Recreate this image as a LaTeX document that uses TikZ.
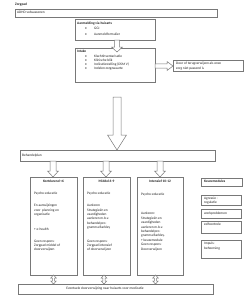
\documentclass[tikz,border=0pt]{standalone}
\usepackage{fontspec}
\setmainfont{Carlito}
\definecolor{linegray}{RGB}{120,120,120}
\definecolor{textcol}{RGB}{30,30,30}
\newcommand\BlockDown[6]{% x, ytop, ytip, shaft half, head half, head start
  \draw[harrow] (#1-#4,#2) -- (#1+#4,#2) -- (#1+#4,#6) -- (#1+#5,#6) -- (#1,#3) -- (#1-#5,#6) -- (#1-#4,#6) -- cycle;}
\newcommand\BlockRight[6]{% y, xleft, xtip, shaft half, head half, head start
  \draw[harrow] (#2,#1-#4) -- (#6,#1-#4) -- (#6,#1-#5) -- (#3,#1) -- (#6,#1+#5) -- (#6,#1+#4) -- (#2,#1+#4) -- cycle;}
\newcommand\BlockBoth[6]{% x, y1, y2, shaft half, head half, head length
  \draw[harrow] (#1,#2) -- (#1+#5,#2+#6) -- (#1+#4,#2+#6) -- (#1+#4,#3-#6) -- (#1+#5,#3-#6) -- (#1,#3) -- (#1-#5,#3-#6) -- (#1-#4,#3-#6) -- (#1-#4,#2+#6) -- (#1-#5,#2+#6) -- cycle;}
\newcommand\TextLines[3]{% x, prefix, list y/text
  \foreach \yy/\tt [count=\ii] in {#3} {\node[txt, anchor=west] (#2\ii) at (#1,\yy) {\tt};}}
\begin{document}
\begin{tikzpicture}[x=1pt,y=-1pt,
  box/.style={draw=linegray, line width=0.5pt, inner sep=0pt, anchor=north west},
  txt/.style={font=\fontsize{3.5}{4.35}\selectfont, text=textcol, inner sep=0pt, text height=2.5pt, text depth=0.8pt},
  btxt/.style={txt, font=\fontsize{3.5}{4.35}\selectfont\bfseries},
  harrow/.style={draw=linegray, line width=0.5pt, fill=white, line join=miter}]
\useasboundingbox (0,0) rectangle (245,300);

% top
\node[btxt, anchor=west] (zorgpad) at (15,4.5) {Zorgpad};
\node[box, minimum width=202pt, minimum height=8.5pt] (adhd) at (15,8.5) {};
\node[txt, anchor=west] (adhdt) at (17,12.75) {ADHD volwassenen};

% aanmelding
\node[box, minimum width=80pt, minimum height=21pt] (aanm) at (75,19) {};
\node[btxt, anchor=west] (aanmt) at (77,23.3) {Aanmelding via huisarts};
\TextLines{85}{aanmb}{29/•, 34.5/•}
\TextLines{94}{aanml}{29/GGI, 34.5/Aanmeldformulier}

% intake
\node[box, minimum width=80pt, minimum height=34pt] (intake) at (75,48) {};
\BlockDown{117}{40}{52}{2.5}{5.5}{47}
\node[btxt, anchor=west] (intaket) at (77,52) {Intake};
\TextLines{85}{intb}{56.5/•, 60.7/•, 64.9/•, 69.1/•}
\TextLines{94}{intl}{56.5/Klachtinventarisatie, 60.7/Klinische blik, 64.9/Indicatiestelling (DSM V), 69.1/Indelen zorgzwaarte}

% door
\BlockRight{66}{155}{173}{2.2}{4.5}{167}
\node[box, minimum width=70pt, minimum height=11pt] (door) at (173,60) {};
\TextLines{176}{doorl}{64/Door of terugverwijzen als onze, 68.2/zorg niet passend is}

% big arrow
\BlockDown{117}{97}{150}{4}{9.5}{135}

% behandelplan
\node[box, minimum width=195pt, minimum height=11pt] (behandel) at (20,150) {};
\node[txt, anchor=west] (behandelt) at (22,155.5) {Behandelplan};

\BlockDown{53}{161}{177}{3}{5.5}{171}
\BlockDown{106}{161}{177}{3}{5.5}{171}
\BlockDown{160}{161}{177}{3}{5.5}{171}

% columns
\node[box, minimum width=47pt, minimum height=98pt] (kort) at (30,177) {};
\node[box, minimum width=47pt, minimum height=98pt] (middel) at (83,177) {};
\node[box, minimum width=46pt, minimum height=98pt] (intens) at (137,177) {};
\node[btxt] (kortt) at (53.5,181.5) {Kortdurend <6};
\node[btxt] (middelt) at (106.5,181.5) {Middel 6-9};
\node[btxt] (intenst) at (160,181.5) {Intensief 10-12};

\TextLines{34}{kl}{194/Psycho-educatie, 206/En aanwijzingen, 210.3/voor\ \ planning en, 214.6/organisatie, 229.5/+ e-health, 241.5/Geen respons:, 245.8/Zorgpad middel of, 250.1/doorverwijzen}
\TextLines{87}{ml}{194/Psycho-educatie, 206/Aanleren, 210.3/Strategieën en, 214.6/vaardigheden, 218.9/aanleren m.b.v., 223.2/behandelpro-, 227.5/gramma Barkley, 241.5/Geen respons:, 245.8/Zorgpad intensief, 250.1/of doorverwijzen}
\TextLines{141}{il}{194.5/Psycho-educatie, 214/Aanleren:, 218.4/Strategieën en, 222.8/vaardigheden, 227.2/aanleren m.b.v., 231.6/behandelpro-, 236/gramma Barkley., 240.4/+ keuzemodule, 244.8/Geen respons:, 249.2/Doorverwijzen}

% keuzemodules
\node[box, minimum width=41pt, minimum height=8pt] (keuze) at (201,178) {};
\node[btxt, anchor=west] (keuzet) at (204,182) {Keuzemodules};
\node[box, minimum width=40pt, minimum height=10pt] (agr) at (201,195) {};
\TextLines{204}{agrl}{198.2/Agressie -, 202.4/regulatie}
\node[box, minimum width=40pt, minimum height=9pt] (werk) at (201,209) {};
\node[txt, anchor=west] (werkt) at (204,213.5) {werkproblemen};
\node[box, minimum width=40pt, minimum height=12pt] (zelf) at (201,221) {};
\node[txt, anchor=west] (zelft) at (204,224.5) {zelfcontrole};
\node[box, minimum width=40pt, minimum height=18pt] (impuls) at (201,240) {};
\TextLines{204}{impl}{244/Impuls-, 248.4/beheersing}

% bottom
\BlockBoth{53.5}{275}{284}{1.2}{2.8}{3}
\BlockBoth{104}{275}{284}{1.2}{2.8}{3}
\BlockBoth{155.5}{275}{284}{1.2}{2.8}{3}
\node[box, minimum width=195pt, minimum height=10pt] (bottom) at (18,284) {};
\node[txt] (bottomt) at (105,289) {Eventuele doorverwijzing naar huisarts voor medicatie};
\end{tikzpicture}
\end{document}
